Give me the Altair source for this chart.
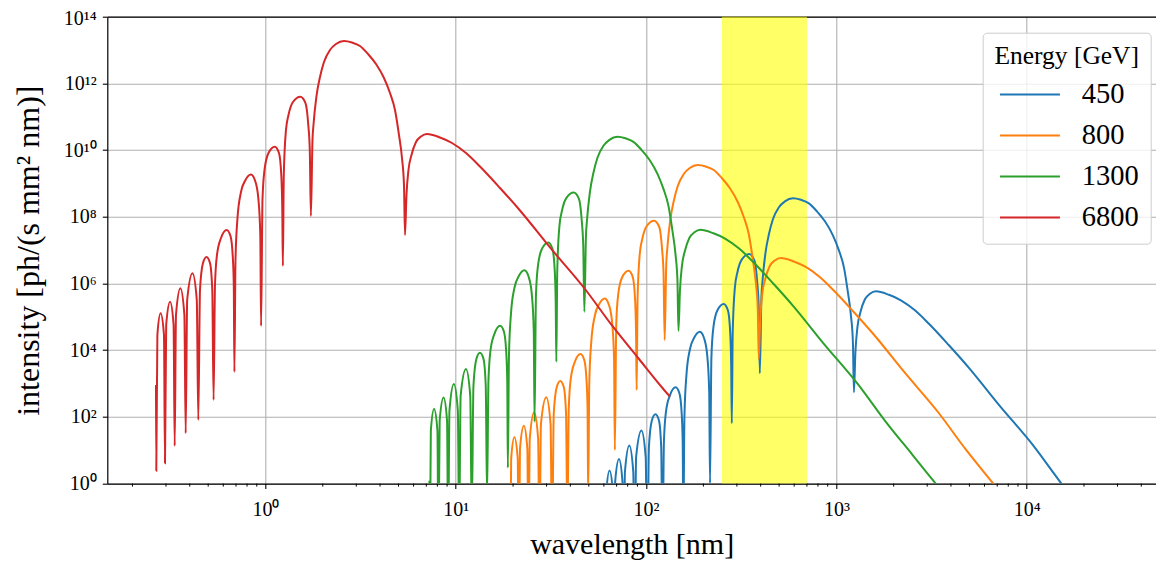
import altair as alt
import numpy as np
import pandas as pd

energies = ["450", "800", "1300", "6800"]
colors = ["#1f77b4", "#ff7f0e", "#2ca02c", "#d62728"]

# values, as decades: log10(wavelength / nm), log10(intensity)
red_log_wl = [-0.5754, -0.5738, -0.5681, -0.5512, -0.5334, -0.5281, -0.5218, -0.5013, -0.4829, -0.4771,
              -0.4703, -0.4472, -0.4262, -0.4193, -0.4115, -0.3836, -0.3610, -0.3531, -0.3442, -0.3284,
              -0.3100, -0.2916, -0.2796, -0.2727, -0.2654, -0.2549, -0.2338, -0.2039, -0.1839, -0.1724,
              -0.1666, -0.1634, -0.1576, -0.1471, -0.1287, -0.1051, -0.0762, -0.0525, -0.0368, -0.0273,
              -0.0231, -0.0158, -0.0053, 0.0158, 0.0489, 0.0709, 0.0830, 0.0883, 0.0914, 0.0962,
              0.1077, 0.1209, 0.1445, 0.1829, 0.2102, 0.2249, 0.2328, 0.2386, 0.2470, 0.2522,
              0.2680, 0.2864, 0.3074, 0.3389, 0.3705, 0.4125, 0.4545, 0.4966, 0.5386, 0.5807,
              0.6227, 0.6542, 0.6805, 0.7015, 0.7173, 0.7278, 0.7331, 0.7409, 0.7514, 0.7672,
              0.7909, 0.8171, 0.8487, 0.9170, 0.9800, 1.0536, 1.1272, 1.2323, 1.3374, 1.4950,
              1.6789, 1.8208, 1.9627, 2.0862, 2.1256]
red_log_int = [2.957, 0.387, 4.456, 5.106, 4.456, 0.609, 4.756, 5.451, 4.756, 1.127,
               5.056, 5.856, 5.056, 1.508, 5.505, 6.306, 5.505, 1.907, 5.805, 6.615,
               6.795, 6.615, 5.805, 2.507, 5.955, 6.855, 7.364, 7.604, 7.424, 6.855,
               5.955, 3.346, 6.705, 7.964, 8.744, 9.103, 9.268, 9.044, 8.504, 7.454,
               4.726, 8.504, 9.403, 9.913, 10.102, 9.913, 9.253, 8.204, 6.525, 9.253,
               10.603, 11.053, 11.442, 11.601, 11.412, 10.753, 10.003, 8.024, 10.303, 10.753,
               11.622, 12.192, 12.642, 13.002, 13.181, 13.271, 13.226, 13.121, 12.882, 12.582,
               12.162, 11.712, 11.202, 10.453, 9.763, 8.954, 7.454, 8.654, 9.403, 9.853,
               10.243, 10.408, 10.483, 10.378, 10.213, 9.913, 9.508, 8.864, 8.189, 7.080,
               5.835, 4.741, 3.736, 2.867, 2.606]

green_log_wl = [0.8616, 0.8632, 0.8689, 0.8858, 0.9036, 0.9089, 0.9152, 0.9357, 0.9541, 0.9599,
                0.9667, 0.9898, 1.0108, 1.0177, 1.0255, 1.0534, 1.0760, 1.0839, 1.0928, 1.1086,
                1.1270, 1.1454, 1.1574, 1.1643, 1.1716, 1.1821, 1.2032, 1.2331, 1.2531, 1.2646,
                1.2704, 1.2736, 1.2794, 1.2899, 1.3083, 1.3319, 1.3608, 1.3845, 1.4002, 1.4097,
                1.4139, 1.4212, 1.4317, 1.4528, 1.4859, 1.5079, 1.5200, 1.5253, 1.5284, 1.5332,
                1.5447, 1.5579, 1.5815, 1.6199, 1.6472, 1.6619, 1.6698, 1.6756, 1.6840, 1.6892,
                1.7050, 1.7234, 1.7444, 1.7759, 1.8075, 1.8495, 1.8915, 1.9336, 1.9756, 2.0177,
                2.0597, 2.0912, 2.1175, 2.1385, 2.1543, 2.1648, 2.1701, 2.1779, 2.1884, 2.2042,
                2.2279, 2.2541, 2.2857, 2.3540, 2.4170, 2.4906, 2.5642, 2.6693, 2.7744, 2.9320,
                3.1159, 3.2578, 3.3997, 3.5232, 3.5626]
green_log_int = [0.084, -2.486, 1.583, 2.233, 1.583, -2.264, 1.883, 2.578, 1.883, -1.746,
                 2.183, 2.983, 2.183, -1.365, 2.632, 3.433, 2.632, -0.966, 2.932, 3.742,
                 3.922, 3.742, 2.932, -0.366, 3.082, 3.982, 4.491, 4.731, 4.551, 3.982,
                 3.082, 0.473, 3.832, 5.091, 5.871, 6.230, 6.395, 6.171, 5.631, 4.581,
                 1.853, 5.631, 6.530, 7.040, 7.229, 7.040, 6.380, 5.331, 3.652, 6.380,
                 7.730, 8.180, 8.569, 8.728, 8.539, 7.880, 7.130, 5.151, 7.430, 7.880,
                 8.749, 9.319, 9.769, 10.129, 10.308, 10.398, 10.353, 10.248, 10.009, 9.709,
                 9.289, 8.839, 8.329, 7.580, 6.890, 6.081, 4.581, 5.781, 6.530, 6.980,
                 7.370, 7.535, 7.610, 7.505, 7.340, 7.040, 6.635, 5.991, 5.316, 4.207,
                 2.962, 1.868, 0.863, -0.006, -0.267]

orange_log_wl = [1.2836, 1.2852, 1.2909, 1.3078, 1.3256, 1.3309, 1.3372, 1.3577, 1.3761, 1.3819,
                 1.3887, 1.4118, 1.4328, 1.4397, 1.4475, 1.4754, 1.4980, 1.5059, 1.5148, 1.5306,
                 1.5490, 1.5674, 1.5794, 1.5863, 1.5936, 1.6041, 1.6252, 1.6551, 1.6751, 1.6866,
                 1.6924, 1.6956, 1.7014, 1.7119, 1.7303, 1.7539, 1.7828, 1.8065, 1.8222, 1.8317,
                 1.8359, 1.8432, 1.8537, 1.8748, 1.9079, 1.9299, 1.9420, 1.9473, 1.9504, 1.9552,
                 1.9667, 1.9799, 2.0035, 2.0419, 2.0692, 2.0839, 2.0918, 2.0976, 2.1060, 2.1112,
                 2.1270, 2.1454, 2.1664, 2.1979, 2.2295, 2.2715, 2.3135, 2.3556, 2.3976, 2.4397,
                 2.4817, 2.5132, 2.5395, 2.5605, 2.5763, 2.5868, 2.5921, 2.5999, 2.6104, 2.6262,
                 2.6499, 2.6761, 2.7077, 2.7760, 2.8390, 2.9126, 2.9862, 3.0913, 3.1964, 3.3540,
                 3.5379, 3.6798, 3.8217, 3.9452, 3.9846]
orange_log_int = [-0.761, -3.331, 0.738, 1.388, 0.738, -3.109, 1.038, 1.733, 1.038, -2.591,
                  1.338, 2.138, 1.338, -2.210, 1.787, 2.588, 1.787, -1.811, 2.087, 2.897,
                  3.077, 2.897, 2.087, -1.211, 2.237, 3.137, 3.646, 3.886, 3.706, 3.137,
                  2.237, -0.372, 2.987, 4.246, 5.026, 5.385, 5.550, 5.326, 4.786, 3.736,
                  1.008, 4.786, 5.685, 6.195, 6.384, 6.195, 5.535, 4.486, 2.807, 5.535,
                  6.885, 7.335, 7.724, 7.883, 7.694, 7.035, 6.285, 4.306, 6.585, 7.035,
                  7.904, 8.474, 8.924, 9.284, 9.463, 9.553, 9.508, 9.403, 9.164, 8.864,
                  8.444, 7.994, 7.484, 6.735, 6.045, 5.236, 3.736, 4.936, 5.685, 6.135,
                  6.525, 6.690, 6.765, 6.660, 6.495, 6.195, 5.790, 5.146, 4.471, 3.362,
                  2.117, 1.023, 0.018, -0.851, -1.112]

blue_log_wl = [1.7836, 1.7852, 1.7909, 1.8078, 1.8256, 1.8309, 1.8372, 1.8577, 1.8761, 1.8819,
               1.8887, 1.9118, 1.9328, 1.9397, 1.9475, 1.9754, 1.9980, 2.0059, 2.0148, 2.0306,
               2.0490, 2.0674, 2.0794, 2.0863, 2.0936, 2.1041, 2.1252, 2.1551, 2.1751, 2.1866,
               2.1924, 2.1956, 2.2014, 2.2119, 2.2303, 2.2539, 2.2828, 2.3065, 2.3222, 2.3317,
               2.3359, 2.3432, 2.3537, 2.3748, 2.4079, 2.4299, 2.4420, 2.4473, 2.4504, 2.4552,
               2.4667, 2.4799, 2.5035, 2.5419, 2.5692, 2.5839, 2.5918, 2.5976, 2.6060, 2.6112,
               2.6270, 2.6454, 2.6664, 2.6979, 2.7295, 2.7715, 2.8135, 2.8556, 2.8976, 2.9397,
               2.9817, 3.0132, 3.0395, 3.0605, 3.0763, 3.0868, 3.0921, 3.0999, 3.1104, 3.1262,
               3.1499, 3.1761, 3.2077, 3.2760, 3.3390, 3.4126, 3.4862, 3.5913, 3.6964, 3.8540,
               4.0379, 4.1798, 4.3217, 4.4452, 4.4846]
blue_log_int = [-1.760, -4.330, -0.261, 0.389, -0.261, -4.108, 0.039, 0.734, 0.039, -3.590,
                0.339, 1.139, 0.339, -3.209, 0.788, 1.589, 0.788, -2.810, 1.088, 1.898,
                2.078, 1.898, 1.088, -2.210, 1.238, 2.138, 2.647, 2.887, 2.707, 2.138,
                1.238, -1.371, 1.988, 3.247, 4.027, 4.386, 4.551, 4.327, 3.787, 2.737,
                0.009, 3.787, 4.686, 5.196, 5.385, 5.196, 4.536, 3.487, 1.808, 4.536,
                5.886, 6.336, 6.725, 6.884, 6.695, 6.036, 5.286, 3.307, 5.586, 6.036,
                6.905, 7.475, 7.925, 8.285, 8.464, 8.554, 8.509, 8.404, 8.165, 7.865,
                7.445, 6.995, 6.485, 5.736, 5.046, 4.237, 2.737, 3.937, 4.686, 5.136,
                5.526, 5.691, 5.766, 5.661, 5.496, 5.196, 4.791, 4.147, 3.472, 2.363,
                1.118, 0.024, -0.981, -1.850, -2.111]

band_wl = [250, 700]
band_int = [1, 1e14]
x_major = [1, 10, 100, 1000, 10000]
y_major = [1e0, 1e2, 1e4, 1e6, 1e8, 1e10, 1e12, 1e14]
x_minor = [0.2, 0.3, 0.4, 0.5, 0.6, 0.7, 0.8, 0.9,
           2, 3, 4, 5, 6, 7, 8, 9,
           20, 30, 40, 50, 60, 70, 80, 90,
           200, 300, 400, 500, 600, 700, 800, 900,
           2000, 3000, 4000, 5000, 6000, 7000, 8000, 9000,
           20000, 30000, 40000]

series = {
    "450": (blue_log_wl, blue_log_int),
    "800": (orange_log_wl, orange_log_int),
    "1300": (green_log_wl, green_log_int),
    "6800": (red_log_wl, red_log_int),
}

W, H = 1048.7, 466.9
FONT = "Liberation Serif"

xscale = alt.Scale(type="log", domain=[0.1475, 47800], nice=False)
yscale = alt.Scale(type="log", domain=[1, 1e14], nice=False)

xsup = "['\u2070','\u00b9','\u00b2','\u00b3','\u2074']"
ysup = ("['\u2070','\u00b9','\u00b2','\u00b3','\u2074','\u2075','\u2076','\u2077','\u2078','\u2079',"
        "'\u00b9\u2070','\u00b9\u00b9','\u00b9\u00b2','\u00b9\u00b3','\u00b9\u2074']")

xaxis = alt.Axis(values=x_major, title="wavelength [nm]", orient="bottom",
                 labelExpr="'10' + " + xsup + "[round(log(datum.value)/LN10)]",
                 labelFlush=False, labelOverlap=False, labelPadding=11,
                 titleFontSize=30, titlePadding=10)
xaxis_top = alt.Axis(orient="top", labels=False, ticks=False, grid=False, title=None,
                     domain=True)
yaxis = alt.Axis(values=y_major, title="intensity [ph/(s mm\u00b2 nm)]",
                 labelExpr="'10' + " + ysup + "[round(log(datum.value)/LN10)]",
                 labelFlush=False, labelOverlap=False, labelPadding=6,
                 labelOffset={"condition": {"test": "datum.value > 1e13", "value": 2}, "value": 0},
                 titleFontSize=32, titlePadding=18)

band_df = pd.DataFrame({"wl": [band_wl[0]], "wl2": [band_wl[1]],
                        "I": [band_int[1]], "I2": [band_int[0]]})
band = alt.Chart(band_df).mark_rect(color="#ffff00", opacity=0.6).encode(
    x=alt.X("wl:Q", scale=xscale, axis=xaxis), x2="wl2:Q",
    y=alt.Y("I:Q", scale=yscale, axis=yaxis), y2="I2:Q")

minor = alt.Chart(pd.DataFrame({"wl": x_minor})).mark_rule(color="black", strokeWidth=1).encode(
    x=alt.X("wl:Q", scale=xscale, axis=xaxis_top),
    y=alt.value(H), y2=alt.value(H + 3))

legend = alt.Legend(
    title="Energy [GeV]", orient="none", legendX=875.4, legendY=16,
    symbolType="M-3,0H3", symbolSize=400, symbolStrokeWidth=2, symbolOffset=22,
    labelOffset=37.6, labelFontSize=28.5, titleFontSize=25.5, titleFontWeight="normal",
    labelFont=FONT, titleFont=FONT, titleAnchor="middle",
    padding=11, rowPadding=12, titlePadding=11,
    fillColor="rgba(255,255,255,0.8)", strokeColor="#cccccc",
    cornerRadius=4, labelColor="black", titleColor="black")

layers = [band, minor]
for e in energies:
    lw, li = series[e]
    df = pd.DataFrame({"wl": 10 ** np.array(lw), "I": 10 ** np.array(li),
                       "energy": e, "idx": np.arange(len(lw))})
    layers.append(
        alt.Chart(df).mark_line(clip=True, strokeWidth=2, interpolate="monotone").encode(
            x=alt.X("wl:Q", scale=xscale, axis=None),
            y=alt.Y("I:Q", scale=yscale, axis=yaxis),
            order="idx:Q",
            color=alt.Color("energy:N", scale=alt.Scale(domain=energies, range=colors),
                            legend=legend),
        )
    )

chart = alt.layer(*layers).resolve_axis(x="independent").properties(
    width=W, height=H, autosize="none",
    padding={"left": 99.3, "top": 8.7, "right": 0, "bottom": 80},
).configure_view(strokeWidth=0).configure_axis(
    domain=True, domainColor="black", domainWidth=1.2,
    grid=True, gridColor="#b0b0b0", gridWidth=1.1,
    tickColor="black", tickWidth=1.1, tickSize=5,
    labelFont=FONT, labelFontSize=20, labelColor="black",
    titleFont=FONT, titleFontWeight="normal", titleColor="black",
)

chart.save("out.html", embed_options={"renderer": "svg", "actions": False})
